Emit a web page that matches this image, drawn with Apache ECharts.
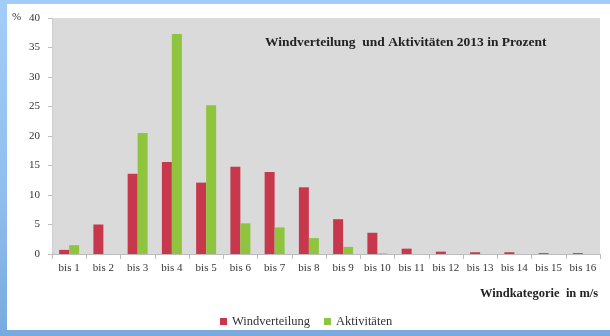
<!DOCTYPE html>
<html>
<head>
<meta charset="utf-8">
<script src="https://cdn.jsdelivr.net/npm/echarts@6/dist/echarts.min.js"></script>
<style>
  html, body { margin: 0; padding: 0; }
  body {
    width: 610px; height: 336px; overflow: hidden; position: relative;
    background: linear-gradient(180deg, #a3cdf8 0%, #8fbdec 60%, #78aadf 100%);
  }
  #chart {
    position: absolute; left: 7px; top: 4px; width: 603px; height: 326px;
    background: #ffffff;
  }
</style>
</head>
<body>
<div id="chart"></div>
<script>
// Wind categories (m/s) and percentages per category
const categories = ['bis 1', 'bis 2', 'bis 3', 'bis 4', 'bis 5', 'bis 6', 'bis 7', 'bis 8',
                    'bis 9', 'bis 10', 'bis 11', 'bis 12', 'bis 13', 'bis 14', 'bis 15', 'bis 16'];
const windverteilung = [0.7, 5.0, 13.6, 15.6, 12.1, 14.8, 13.9, 11.3, 5.9, 3.6, 0.9, 0.4, 0.3, 0.3, 0.15, 0.15];
const aktivitaeten   = [1.5, 0, 20.5, 37.3, 25.2, 5.2, 4.5, 2.7, 1.2, 0.1, 0, 0, 0, 0, 0, 0];
const yTicks = { min: 0, max: 40, interval: 5 };

const serif = '"Liberation Serif", "DejaVu Serif", serif';
const chart = echarts.init(document.getElementById('chart'), null, { renderer: 'canvas' });

chart.setOption({
  animation: false,
  textStyle: { fontFamily: serif },
  title: [
    {
      text: 'Windverteilung  und Aktivitäten 2013 in Prozent',
      left: 253, top: 27,
      textStyle: { fontFamily: serif, fontWeight: 'bold', fontSize: 13.5, color: '#222' }
    },
    {
      text: 'Windkategorie  in m/s',
      left: 468, top: 278,
      textStyle: { fontFamily: serif, fontWeight: 'bold', fontSize: 12.5, color: '#222' }
    },
    {
      text: '%',
      left: 0, top: 3,
      textStyle: { fontFamily: serif, fontWeight: 'normal', fontSize: 11, color: '#333' }
    }
  ],
  legend: {
    left: 208, top: 306,
    icon: 'rect', itemWidth: 7, itemHeight: 7, itemGap: 14,
    textStyle: { fontFamily: serif, fontSize: 12.5, color: '#333' },
    data: ['Windverteilung', 'Aktivitäten']
  },
  grid: {
    left: 45, top: 14, width: 548, height: 236,
    show: true, backgroundColor: '#dadada', borderWidth: 0
  },
  xAxis: {
    type: 'category',
    data: categories,
    axisLine: { lineStyle: { color: '#bdbdbd' } },
    axisTick: { show: true, alignWithLabel: false, lineStyle: { color: '#bdbdbd' } },
    axisLabel: { fontFamily: serif, fontSize: 11, color: '#333', margin: 9, interval: 0 }
  },
  yAxis: {
    type: 'value',
    min: yTicks.min, max: yTicks.max, interval: yTicks.interval,
    axisLine: { show: true, lineStyle: { color: '#cfcfcf' } },
    axisTick: { show: true, length: 4, lineStyle: { color: '#bdbdbd' } },
    splitLine: { show: false },
    axisLabel: { fontFamily: serif, fontSize: 11, color: '#333', margin: 12 }
  },
  series: [
    {
      name: 'Windverteilung', type: 'bar', data: windverteilung,
      barWidth: 10, barGap: '0%',
      itemStyle: { color: '#c8384c' }
    },
    {
      name: 'Aktivitäten', type: 'bar', data: aktivitaeten,
      barWidth: 10, barGap: '0%',
      itemStyle: { color: '#8fc43e' }
    }
  ]
});
</script>
</body>
</html>
